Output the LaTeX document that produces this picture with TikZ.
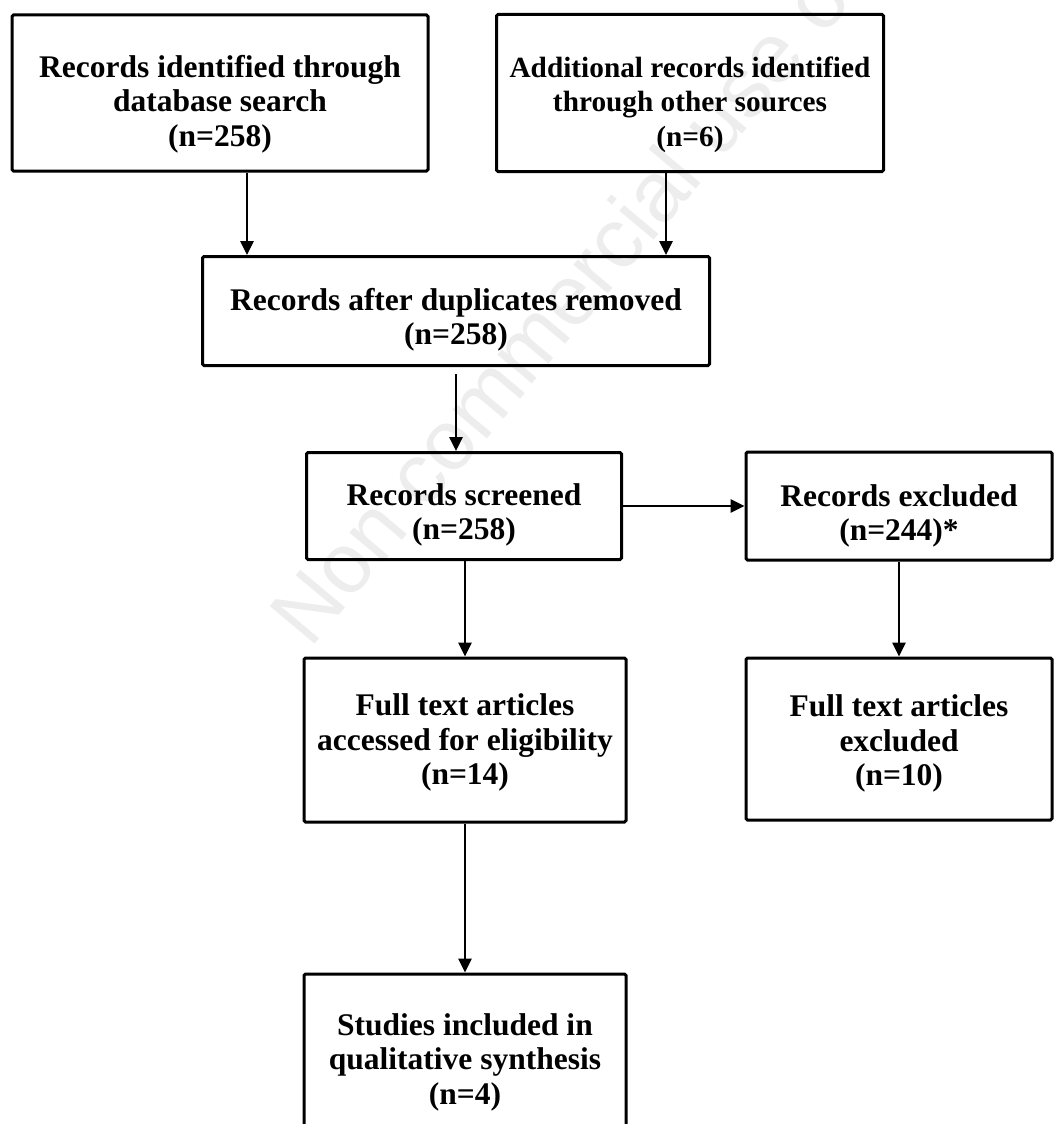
\documentclass[tikz,border=0pt]{standalone}
\usepackage{fontspec}
\setmainfont{Liberation Serif}
\newfontfamily\wmfont{Liberation Sans}
\usetikzlibrary{arrows.meta}

% invisible strut that pushes a box's text down
\newcommand{\lowr}[1]{\rule{0pt}{#1}}

\begin{document}
\begin{tikzpicture}[x=1pt,y=-1pt,
  box/.style={draw,line width=3pt,rounded corners=1.5pt,align=center,inner sep=0pt,
    font=\bfseries\fontsize{31.5}{34.5}\selectfont},
  arr/.style={line width=2.6pt,-{Triangle[width=13pt,length=14pt]}},
  wmark/.style={text=black!7,font=\wmfont\fontsize{85}{85}\selectfont,anchor=base west,rotate=50}]

\clip (0,0) rectangle (1059,1124);

\node[wmark] (wm) at (308,652) {Non commercial use only};


\node[box,minimum width=416pt,minimum height=156pt] (ident) at (220,93) {\lowr{44pt}Records identified through\\database search\\(n=258)};
\node[box,font=\bfseries\fontsize{29.3}{34.5}\selectfont,minimum width=387pt,minimum height=157pt] (other) at (690,93) {\lowr{44pt}Additional records identified\\through other sources\\(n=6)};

\node[box,minimum width=507pt,minimum height=109pt] (dupl) at (456,311) {\lowr{40pt}Records after duplicates removed\\(n=258)};

\node[box,minimum width=315pt,minimum height=107pt] (screen) at (464,506) {\lowr{40pt}Records screened\\(n=258)};
\node[box,minimum width=306pt,minimum height=108pt] (excl) at (899,506) {\lowr{42pt}Records excluded\\(n=244)*};

\node[box,minimum width=322pt,minimum height=164pt] (full) at (465,740) {\lowr{27pt}Full text articles\\accessed for eligibility\\(n=14)};
\node[box,minimum width=306pt,minimum height=162pt] (fullex) at (899,739) {\lowr{31pt}Full text articles\\excluded\\(n=10)};

\node[box,minimum width=322pt,minimum height=176pt] (incl) at (465,1062) {Studies included in\\qualitative synthesis\\(n=4)};


\draw[arr] ([xshift=27pt]ident.south) -- ([xshift=27pt]ident.south |- dupl.north);
\draw[arr] ([xshift=-24pt]other.south) -- ([xshift=-24pt]other.south |- dupl.north);
\draw[arr] ([yshift=-7pt]dupl.south) -- (dupl.south |- screen.north);
\draw[arr] (screen.east) -- (excl.west);
\draw[arr] (full.north |- screen.south) -- (full.north);
\draw[arr] (excl.south) -- (fullex.north);
\draw[arr] (full.south) -- (incl.north);
\end{tikzpicture}
\end{document}
